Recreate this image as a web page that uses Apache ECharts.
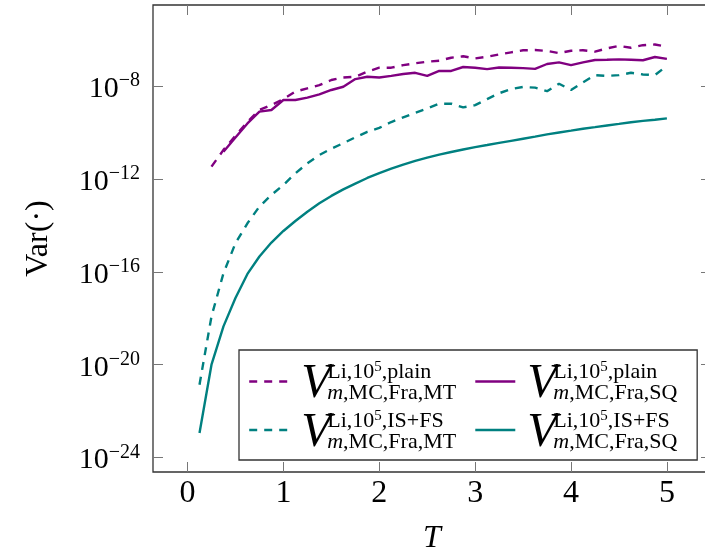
<!DOCTYPE html>
<html><head><meta charset="utf-8">
<script src="https://cdn.jsdelivr.net/npm/echarts@6/dist/echarts.min.js"></script>
<style>html,body{margin:0;padding:0;background:#fff}#c{width:705px;height:554px}</style>
</head><body><div id="c"></div>
<script>
const FONT = "'Liberation Serif', 'Times New Roman', serif";
const T = [0.125,0.25,0.375,0.5,0.625,0.75,0.875,1,1.125,1.25,1.375,1.5,1.625,1.75,1.875,2,2.125,2.25,2.375,2.5,2.625,2.75,2.875,3,3.125,3.25,3.375,3.5,3.625,3.75,3.875,4,4.125,4.25,4.375,4.5,4.625,4.75,4.875,5];

const plainMT = [null,3.39e-12,1.78e-11,7.24e-11,2.88e-10,9.33e-10,1.51e-9,2.75e-9,5.75e-9,7.94e-9,1.10e-8,1.82e-8,2.34e-8,2.51e-8,4.17e-8,6.17e-8,6.17e-8,7.94e-8,9.55e-8,1.12e-7,1.23e-7,1.66e-7,1.91e-7,1.55e-7,1.82e-7,2.29e-7,2.82e-7,3.47e-7,3.55e-7,3.24e-7,2.63e-7,3.31e-7,3.47e-7,3.02e-7,4.17e-7,5.37e-7,4.47e-7,5.75e-7,6.17e-7,4.90e-7];
const plainSQ = [null,null,1.48e-11,6.03e-11,2.45e-10,7.94e-10,9.33e-10,2.51e-9,2.51e-9,3.16e-9,4.37e-9,6.76e-9,9.33e-9,2.00e-8,2.51e-8,2.34e-8,2.75e-8,3.31e-8,3.72e-8,2.75e-8,4.47e-8,4.47e-8,6.61e-8,6.17e-8,5.37e-8,6.31e-8,6.17e-8,5.89e-8,5.50e-8,8.91e-8,1.05e-7,7.94e-8,1.05e-7,1.32e-7,1.35e-7,1.41e-7,1.35e-7,1.29e-7,1.78e-7,1.48e-7];
const isfsMT = [1.38e-21,1.20e-18,8.71e-17,1.70e-15,1.23e-14,6.46e-14,2.04e-13,5.50e-13,1.74e-12,4.68e-12,1.07e-11,2.00e-11,3.47e-11,6.17e-11,1.07e-10,1.58e-10,2.82e-10,4.47e-10,7.08e-10,1.07e-9,1.74e-9,1.74e-9,1.20e-9,1.51e-9,2.75e-9,4.90e-9,7.41e-9,9.12e-9,8.51e-9,6.03e-9,1.26e-8,6.76e-9,1.45e-8,2.95e-8,2.75e-8,2.95e-8,3.72e-8,3.16e-8,2.95e-8,7.41e-8];
const isfsSQ = [1.15e-23,1.0e-20,4.47e-19,7.41e-18,8.13e-17,4.57e-16,1.82e-15,5.75e-15,1.55e-14,3.89e-14,8.91e-14,1.86e-13,3.55e-13,6.31e-13,1.10e-12,1.78e-12,2.75e-12,4.17e-12,6.03e-12,8.32e-12,1.12e-11,1.45e-11,1.86e-11,2.34e-11,2.88e-11,3.55e-11,4.37e-11,5.37e-11,6.61e-11,8.32e-11,1.00e-10,1.20e-10,1.45e-10,1.70e-10,2.00e-10,2.34e-10,2.75e-10,3.16e-10,3.55e-10,4.07e-10];

const xTicks = [0,1,2,3,4,5];
const yTickValues = [1e-24,1e-20,1e-16,1e-12,1e-8];
const yTickExponents = ['\u221224','\u221220','\u221216','\u221212','\u22128'];

const seriesNames = ['plain MT','plain SQ','IS+FS MT','IS+FS SQ'];
const legendSup = ['plain','plain','IS+FS','IS+FS'];
const legendSub = [',MC,Fra,MT',',MC,Fra,SQ',',MC,Fra,MT',',MC,Fra,SQ'];

const PURPLE = '#800080', TEAL = '#008080';

function pairs(arr){ const out=[]; for(let i=0;i<T.length;i++){ if(arr[i]!=null) out.push([T[i],arr[i]]); } return out; }

const chart = echarts.init(document.getElementById('c'), null, {renderer:'canvas'});

const tickStyle = {show:true, inside:true, length:10, lineStyle:{color:'#777', width:1}};

function mkSeries(name, arr, color, dashed){
  return {name, type:'line', data:pairs(arr), symbol:'none', showSymbol:false, smooth:false,
    lineStyle:{color, width:2.4, type: dashed ? [8,7] : 'solid'}, itemStyle:{color},
    xAxisIndex:0, yAxisIndex:0, z: 3};
}

chart.setOption({
  animation:false,
  backgroundColor:'#fff',
  grid:{left:153, top:5, right:-6, bottom:82, show:true, borderColor:'#333', borderWidth:1.3, backgroundColor:'transparent', outerBoundsMode:'none', containLabel:false},
  xAxis:[{
    type:'value', min:-0.36, max:5.46, position:'bottom',
    axisLine:{show:false, onZero:false}, splitLine:{show:false},
    axisTick:Object.assign({customValues:xTicks}, tickStyle),
    axisLabel:{customValues:xTicks, margin:6, fontFamily:FONT, fontSize:32, color:'#000', formatter:v=>String(Math.round(v))},
    name:'T', nameLocation:'middle', nameGap:51,
    nameTextStyle:{fontFamily:FONT, fontSize:32, fontStyle:'italic', color:'#000'}
  },{
    type:'value', min:-0.36, max:5.46, position:'top',
    axisLine:{show:false, onZero:false}, splitLine:{show:false},
    axisTick:Object.assign({customValues:xTicks}, tickStyle),
    axisLabel:{show:false}
  }],
  yAxis:[{
    type:'log', logBase:10, min:2.40e-25, max:3.09e-5, position:'left',
    axisLine:{show:false, onZero:false}, splitLine:{show:false}, minorTick:{show:false},
    axisTick:Object.assign({customValues:yTickValues}, tickStyle),
    axisLabel:{customValues:yTickValues, margin:13, color:'#000',
      formatter:function(v){
        let best=0, bd=1e9;
        for(let i=0;i<yTickValues.length;i++){ const d=Math.abs(Math.log10(yTickValues[i])-Math.log10(v)); if(d<bd){bd=d;best=i;} }
        return '{b|10}{e|'+yTickExponents[best]+'}';
      },
      rich:{
        b:{fontFamily:FONT, fontSize:30, height:24, lineHeight:30, verticalAlign:'bottom', color:'#000'},
        e:{fontFamily:FONT, fontSize:20, height:20, lineHeight:20, verticalAlign:'top', color:'#000'}
      }
    },
    name:'Var(\u00b7)', nameLocation:'middle', nameGap:98, nameRotate:90,
    nameTextStyle:{fontFamily:FONT, fontSize:32, color:'#000'}
  },{
    type:'log', logBase:10, min:2.40e-25, max:3.09e-5, position:'right',
    axisLine:{show:false, onZero:false}, splitLine:{show:false}, minorTick:{show:false},
    axisTick:Object.assign({customValues:yTickValues}, tickStyle),
    axisLabel:{show:false}
  }],
  legend:{
    data: seriesNames,
    left:239, top:350, orient:'horizontal', width:440,
    itemWidth:40, itemHeight:14, itemGap:0,
    padding:[10,15,3,9],
    borderColor:'#333', borderWidth:1.3, backgroundColor:'#fff',
    selectedMode:false,
    itemStyle:{color:'transparent', borderColor:'transparent', borderWidth:0, opacity:0},
    lineStyle:{width:2.4},
    formatter:function(name){
      const i = seriesNames.indexOf(name);
      const col1 = (i % 2 === 0);
      const line1 = '{g|}{sup|Li,10}{s5|5}{sup|,'+legendSup[i]+'}';
      const line2 = '{sp|}{V|V}{mi|m}{'+(col1?'sub1':'sub2')+'|'+legendSub[i]+'}';
      return line1 + '\n' + line2;
    },
    textStyle:{fontFamily:FONT, color:'#000',
      rich:{
        g:{width:33, height:24, lineHeight:24},
        sup:{fontFamily:FONT, fontSize:22, height:24, lineHeight:24, verticalAlign:'bottom', color:'#000'},
        s5:{fontFamily:FONT, fontSize:15, height:14, lineHeight:14, verticalAlign:'top', color:'#000'},
        sp:{width:7, height:18, lineHeight:18},
        V:{fontFamily:FONT, fontSize:48, fontStyle:'italic', width:26, height:0, lineHeight:1, verticalAlign:'top', color:'#000'},
        mi:{fontFamily:FONT, fontSize:22, fontStyle:'italic', height:18, lineHeight:18, color:'#000'},
        sub1:{fontFamily:FONT, fontSize:22, width:131, height:18, lineHeight:18, color:'#000'},
        sub2:{fontFamily:FONT, fontSize:22, width:113, height:18, lineHeight:18, color:'#000'}
      }
    }
  },
  series:[
    mkSeries(seriesNames[0], plainMT, PURPLE, true),
    mkSeries(seriesNames[1], plainSQ, PURPLE, false),
    mkSeries(seriesNames[2], isfsMT, TEAL, true),
    mkSeries(seriesNames[3], isfsSQ, TEAL, false)
  ]
});
</script></body></html>
